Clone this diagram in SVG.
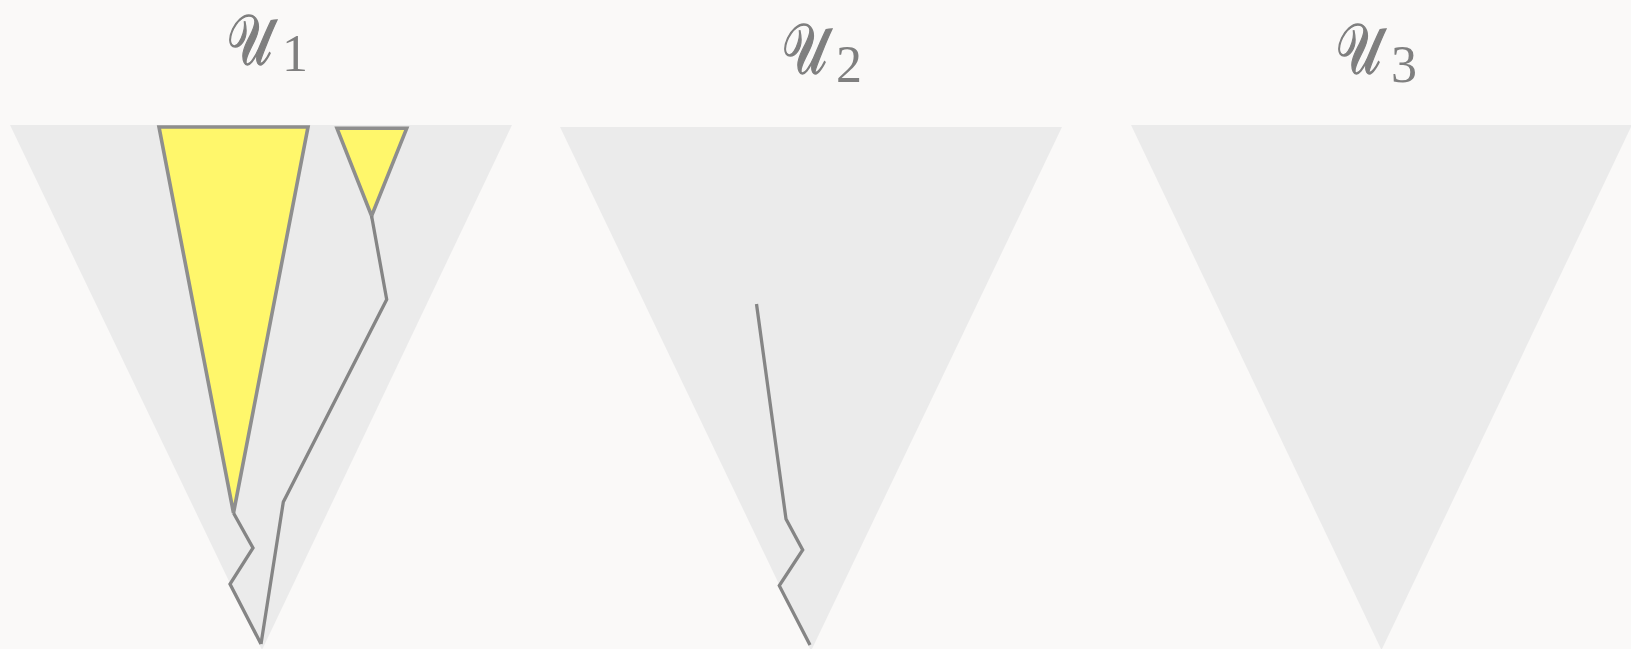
<svg xmlns="http://www.w3.org/2000/svg" width="1631" height="649" viewBox="0 0 1631 649">
<style>
.bg{fill:#faf9f8}
.cone{fill:#ebebeb;stroke:none}
.cell{fill:#fff76b;stroke:#8e8e8e;stroke-width:3.6;stroke-linejoin:miter}
.path{fill:none;stroke:#858585;stroke-width:3.3;stroke-linejoin:miter;stroke-linecap:butt}
.lbl{font-family:"DejaVu Serif","DejaVu Sans","Liberation Serif",serif;font-size:70px;fill:#7f7f7f}
.cal{stroke:#7f7f7f;stroke-width:1.6}
.sub{font-family:"Liberation Serif",serif;font-size:52px;fill:#7f7f7f;stroke:none}
</style>
<rect class="bg" x="0" y="0" width="1631" height="649"/>
<g id="U1">
  <polygon class="cone" points="10,125 512,125 262,650"/>
  <polygon class="cell" points="159,127 308,127 233.5,513"/>
  <polygon class="cell" points="337,128.3 406.7,128.3 371.6,216"/>
  <text class="lbl" x="227" y="64"><tspan class="cal" textLength="45" lengthAdjust="spacingAndGlyphs">𝒰</tspan><tspan class="sub" x="282" y="71">1</tspan></text>
</g>
<g id="U2">
  <polygon class="cone" points="560,127 1062,127 811,651"/>
  <text class="lbl" x="782" y="73"><tspan class="cal" textLength="45" lengthAdjust="spacingAndGlyphs">𝒰</tspan><tspan class="sub" x="836" y="82">2</tspan></text>
</g>
<g id="U3">
  <polygon class="cone" points="1131,125 1632,125 1381.5,650"/>
  <text class="lbl" x="1336" y="73"><tspan class="cal" textLength="45" lengthAdjust="spacingAndGlyphs">𝒰</tspan><tspan class="sub" x="1391" y="82">3</tspan></text>
</g>
<g id="connectors">
  <polyline class="path" points="233.5,513 253,548 230,584 261,644"/>
  <polyline class="path" points="371.6,216 386.7,299.5 283.3,502 261,644"/>
  <polyline class="path" points="756.5,304 786,519 802.7,550 779.3,585.7 810,645"/>
</g>
</svg>
